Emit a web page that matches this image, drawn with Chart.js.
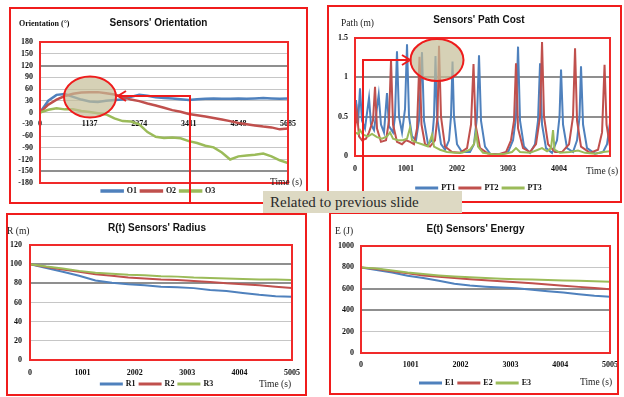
<!DOCTYPE html>
<html>
<head>
<meta charset="utf-8">
<script src="https://cdn.jsdelivr.net/npm/chart.js@4.4.1/dist/chart.umd.min.js"></script>
<style>
  body { margin: 0; width: 624px; height: 397px; background: #fff; position: relative; overflow: hidden; }
  .panel { position: absolute; box-sizing: border-box; border: 2px solid #f01c1c; }
  .panel canvas { position: absolute; left: 0; top: 0; }
  .lbl { position: absolute; font-family: 'Liberation Serif', 'Times New Roman', serif; font-size: 9.5px; line-height: 1; color: #222; white-space: nowrap; }
  .lbl.bold { font-weight: bold; font-size: 8px; color: #111; }
  #marks { position: absolute; left: 0; top: 0; }
  #note { position: absolute; left: 263px; top: 191px; width: 199px; height: 22px; background: #ddd9c3;
          font-family: 'Liberation Serif', 'Times New Roman', serif; font-size: 15px; line-height: 22px; color: #2a2a2a; padding-left: 7px; box-sizing: border-box; }
</style>
</head>
<body>

<div class="panel" style="left:9px;top:7px;width:299px;height:197px"><canvas id="orient-chart" width="295" height="193"></canvas></div>
<div class="panel" style="left:327px;top:5px;width:295px;height:198px"><canvas id="path-chart" width="291" height="194"></canvas></div>
<div class="panel" style="left:6px;top:213px;width:301px;height:183px"><canvas id="radius-chart" width="297" height="179"></canvas></div>
<div class="panel" style="left:329px;top:212px;width:290px;height:183px"><canvas id="energy-chart" width="286" height="179"></canvas></div>

<!-- axis captions -->
<div class="lbl bold" style="left:19px;top:20px">Orientation (°)</div>
<div class="lbl" style="left:270px;top:178px">Time (s)</div>
<div class="lbl" style="left:341px;top:19px">Path (m)</div>
<div class="lbl" style="left:586px;top:167px">Time (s)</div>
<div class="lbl" style="left:7px;top:227px">R (m)</div>
<div class="lbl" style="left:259px;top:380px">Time (s)</div>
<div class="lbl" style="left:335px;top:227px">E (J)</div>
<div class="lbl" style="left:580px;top:378px">Time (s)</div>

<!-- highlight circles and arrows -->
<svg id="marks" width="624" height="397">
  <g fill="none" stroke="#ee1c1c" stroke-width="2">
    <ellipse cx="90" cy="97" rx="26" ry="20.5" fill="rgba(196,189,151,0.7)"/>
    <polyline points="190,204 190,96 120,96"/>
    <polyline points="126,91 118,96 126,101"/>
    <ellipse cx="437" cy="60" rx="26.5" ry="21" fill="rgba(196,189,151,0.7)"/>
    <polyline points="363,200 363,60 408,60"/>
    <polyline points="402,55 410,60 402,65"/>
  </g>
</svg>
<div id="note">Related to previous slide</div>

<script>
// Sensors' Orientation (degrees)
const orientTime = [0, 190, 379, 569, 758, 948, 1137, 1327, 1516, 1706, 1895, 2085, 2274, 2464, 2653, 2843,
                    3032, 3222, 3411, 3601, 3790, 3980, 4169, 4359, 4548, 4738, 4927, 5117, 5306, 5496, 5685];
const orientO1 = [0, 30, 45, 47, 40, 33, 28, 27, 30, 32, 33, 40, 45, 43, 39, 37,
                  36, 34, 32, 34, 35, 36, 35, 35, 36, 35, 36, 37, 36, 35, 36];
const orientO2 = [0, 20, 33, 42, 48, 51, 52, 52, 49, 46, 40, 33, 29, 23, 18, 12,
                  6, 2, -4, -7, -10, -14, -18, -22, -27, -30, -33, -36, -38, -43, -41];
const orientO3 = [0, 7, 11, 8, 8, 4, 1, -2, -5, -15, -22, -23, -30, -50, -62, -65,
                  -64, -66, -73, -78, -85, -89, -102, -120, -112, -110, -108, -105, -112, -122, -129];
const orientTicks = [0, 1137, 2274, 3411, 4548, 5685];

// Sensors' Path Cost (m)
const pt1Time = [0, 20, 59, 98, 137, 196, 275, 314, 373, 465, 510, 569, 628, 667, 746, 785, 824, 864, 923, 982,
                 1021, 1060, 1119, 1197, 1256, 1315, 1354, 1433, 1512, 1551, 1580, 1610, 1688, 1767, 1845, 1884,
                 1914, 1943, 2002, 2100, 2257, 2336, 2395, 2434, 2473, 2552, 2650, 2846, 3003, 3102, 3160, 3200,
                 3239, 3317, 3435, 3533, 3592, 3632, 3671, 3749, 3867, 3965, 4014, 4044, 4083, 4162, 4279, 4358,
                 4407, 4436, 4476, 4554, 4711, 4868, 4947, 5005];
const pt1Cost = [0.55, 0.71, 0.4, 0.86, 0.45, 0.35, 0.74, 0.4, 0.33, 0.78, 0.4, 0.3, 0.8, 0.38, 0.3, 0.5, 1.33, 0.5, 0.3, 0.6,
                 1.42, 0.5, 0.25, 0.2, 0.45, 1.32, 0.45, 0.15, 0.2, 0.5, 1.27, 0.5, 0.15, 0.08, 0.2, 0.5,
                 1.2, 0.5, 0.15, 0.05, 0.05, 0.15, 0.5, 1.28, 0.45, 0.12, 0.03, 0.02, 0.05, 0.2, 0.5, 1.39,
                 0.45, 0.12, 0.04, 0.15, 0.45, 1.18, 0.4, 0.1, 0.04, 0.2, 0.5, 1.1, 0.4, 0.1, 0.05, 0.2,
                 0.5, 1.14, 0.4, 0.1, 0.03, 0.05, 0.15, 0.42];
const pt2Time = [0, 39, 79, 137, 216, 275, 353, 393, 432, 510, 609, 667, 707, 746, 824, 923, 1001, 1080, 1158, 1217,
                 1266, 1305, 1374, 1472, 1570, 1620, 1649, 1688, 1767, 1904, 2061, 2199, 2277, 2326, 2365, 2454,
                 2611, 2807, 2964, 3062, 3121, 3160, 3200, 3298, 3435, 3553, 3632, 3671, 3710, 3789, 3926, 4063,
                 4201, 4279, 4319, 4358, 4436, 4613, 4770, 4849, 4898, 4937, 5005];
const pt2Cost = [0.35, 0.55, 0.25, 0.2, 0.22, 0.3, 0.45, 0.88, 0.35, 0.18, 0.2, 0.45, 1.22, 0.4, 0.18, 0.15, 0.2, 0.18, 0.15, 0.35,
                 1.26, 0.4, 0.15, 0.12, 0.2, 0.5, 1.4, 0.5, 0.12, 0.05, 0.04, 0.1, 0.4, 1.17, 0.4, 0.1,
                 0.03, 0.02, 0.05, 0.2, 0.45, 1.18, 0.35, 0.1, 0.05, 0.15, 0.5, 1.45, 0.5, 0.15, 0.05, 0.05,
                 0.15, 0.5, 1.37, 0.45, 0.12, 0.04, 0.08, 0.3, 1.16, 0.4, 0.12];
const pt3Time = [0, 59, 98, 157, 255, 334, 432, 530, 628, 687, 746, 844, 942, 1021, 1080, 1119, 1217, 1315, 1433, 1512,
                 1551, 1669, 1806, 1963, 2100, 2257, 2336, 2375, 2415, 2513, 2748, 2945, 3082, 3160, 3239, 3435,
                 3592, 3671, 3769, 3848, 3887, 3916, 4024, 4220, 4377, 4515, 4711, 4868, 5005];
const pt3Cost = [0.3, 0.28, 0.33, 0.27, 0.25, 0.28, 0.24, 0.22, 0.25, 0.3, 0.22, 0.2, 0.2, 0.22, 0.36, 0.2, 0.17, 0.15, 0.12, 0.27,
                 0.12, 0.08, 0.05, 0.04, 0.04, 0.08, 0.15, 0.3, 0.12, 0.04, 0.02, 0.03, 0.05, 0.1, 0.05, 0.04,
                 0.08, 0.1, 0.06, 0.1, 0.33, 0.08, 0.04, 0.05, 0.07, 0.04, 0.03, 0.05, 0.06];
const pathTicks = [0, 1001, 2002, 3003, 4004];

// R(t) Sensors' Radius and E(t) Sensors' Energy
const sampleTime = [0, 313, 626, 938, 1251, 1564, 1877, 2189, 2502, 2815, 3128, 3441, 3753, 4066, 4379, 4692, 5005];
const radiusR1 = [100, 96, 92, 88, 83, 80.5, 79, 78, 76.5, 76, 75, 73, 72, 70, 68, 66.5, 66];
const radiusR2 = [100, 97, 94.5, 92, 89.5, 88, 86, 85, 84, 83.5, 82.5, 81.5, 80, 79, 78, 76.5, 75];
const radiusR3 = [100, 97.5, 95.5, 93, 91, 90, 89, 88.5, 87.5, 87, 86, 85.5, 85, 84.5, 84, 84, 83.5];
const energyE1 = [800, 775, 752, 722, 700, 675, 648, 630, 620, 612, 605, 592, 578, 565, 550, 535, 525];
const energyE2 = [800, 785, 765, 745, 725, 712, 700, 690, 680, 670, 662, 652, 640, 628, 618, 608, 595];
const energyE3 = [800, 790, 770, 752, 738, 725, 715, 708, 700, 695, 690, 688, 682, 678, 675, 670, 666];
const timeTicks = [0, 1001, 2002, 3003, 4004, 5005];

const BLUE = '#4f81bd';
const RED = '#c0504d';
const GREEN = '#9bbb59';
const TICK_FONT = { family: "'Liberation Serif', 'Times New Roman', serif", size: 8, weight: 'bold' };

// red frame around the plot area
const plotFrame = {
    id: 'plotFrame',
    afterDatasetsDraw(chart) {
        const a = chart.chartArea;
        const ctx = chart.ctx;
        ctx.save();
        ctx.strokeStyle = '#f02a2a';
        ctx.lineWidth = 2;
        ctx.strokeRect(a.left, a.top, a.right - a.left, a.bottom - a.top);
        ctx.restore();
    }
};

function series(label, times, values, color, order, width) {
    return {
        label: label,
        data: times.map((t, i) => ({ x: t, y: values[i] })),
        borderColor: color,
        backgroundColor: color,
        borderWidth: width,
        pointRadius: 0,
        tension: 0,
        order: order
    };
}

function timeAxis(cfg, ticks, show) {
    return {
        type: 'linear',
        min: 0,
        max: cfg.xMax,
        position: cfg.xPosition || 'bottom',
        afterBuildTicks: (s) => { s.ticks = ticks.map(v => ({ value: v })); },
        ticks: { display: show, padding: cfg.xPad, color: '#111', font: TICK_FONT, maxRotation: 0, autoSkip: false,
                 callback: (v) => String(v) },
        grid: { display: false, drawTicks: false },
        border: { display: false },
        afterFit: (s) => { s.height = show && cfg.xPosition ? 0 : cfg.xHeight; s.paddingLeft = 0; s.paddingRight = 0; }
    };
}

function makeChart(id, cfg) {
    const scales = {
        x: timeAxis(cfg, cfg.xTicks, !cfg.xPosition),
        y: {
            type: 'linear',
            min: cfg.yMin,
            max: cfg.yMax,
            ticks: { stepSize: cfg.yStep, padding: cfg.yPad, autoSkip: false, color: '#111', font: TICK_FONT,
                     callback: (v) => String(v) },
            grid: {
                drawTicks: false,
                color: (c) => cfg.darkLines.includes(c.tick.value) ? '#8f8f8f' : '#c6c6c6',
                lineWidth: (c) => cfg.darkLines.includes(c.tick.value) ? 2 : 1
            },
            border: { display: false },
            afterFit: (s) => { s.width = cfg.yWidth; s.paddingTop = 0; s.paddingBottom = 0; }
        },
        // empty axis on the right, only keeps the gap after the plot
        pad: {
            type: 'linear',
            axis: 'y',
            position: 'right',
            ticks: { display: false },
            grid: { display: false },
            border: { display: false },
            afterFit: (s) => { s.width = cfg.rightWidth; s.paddingTop = 0; s.paddingBottom = 0; }
        }
    };
    if (cfg.xPosition) {
        // labels sit on the zero line, the hidden bottom axis keeps the space
        scales.xZero = timeAxis(cfg, cfg.xTicks, true);
        scales.xZero.z = 1;
    }

    return new Chart(document.getElementById(id), {
        type: 'line',
        data: { datasets: cfg.datasets },
        options: {
            responsive: false,
            animation: false,
            layout: { padding: { left: cfg.padLeft, right: 0, top: 0, bottom: cfg.padBottom } },
            plugins: {
                title: {
                    display: true,
                    text: cfg.title,
                    color: '#111',
                    font: { family: "'Liberation Sans', Arial, sans-serif", size: 10, weight: 'bold' },
                    padding: cfg.titlePad
                },
                legend: {
                    position: 'bottom',
                    maxHeight: 14,
                    labels: {
                        boxWidth: 21,
                        boxHeight: 1,
                        padding: 4,
                        color: '#111',
                        font: TICK_FONT,
                        sort: (a, b) => a.datasetIndex - b.datasetIndex
                    }
                },
                tooltip: { enabled: false }
            },
            scales: scales
        },
        plugins: [plotFrame]
    });
}

makeChart('orient-chart', {
    title: "Sensors' Orientation",
    titlePad: { top: 8, bottom: 13 },
    datasets: [
        series('O1', orientTime, orientO1, BLUE, 2, 2.5),
        series('O2', orientTime, orientO2, RED, 1, 2.5),
        series('O3', orientTime, orientO3, GREEN, 0, 2.5)
    ],
    xMax: 5685, xTicks: orientTicks, xPosition: { y: 0 }, xPad: 7, xHeight: 10,
    yMin: -180, yMax: 180, yStep: 30, yPad: 7, yWidth: 29, darkLines: [120, -150],
    padLeft: 0, rightWidth: 18, padBottom: 5
});

makeChart('path-chart', {
    title: "Sensors' Path Cost",
    titlePad: { top: 7, bottom: 12 },
    datasets: [
        series('PT1', pt1Time, pt1Cost, BLUE, 2, 2),
        series('PT2', pt2Time, pt2Cost, RED, 1, 2),
        series('PT3', pt3Time, pt3Cost, GREEN, 0, 2)
    ],
    xMax: 5005, xTicks: pathTicks, xPad: 8, xHeight: 24,
    yMin: 0, yMax: 1.5, yStep: 0.5, yPad: 7, yWidth: 17, darkLines: [1, 0.5],
    padLeft: 9, rightWidth: 10, padBottom: 7
});

makeChart('radius-chart', {
    title: "R(t) Sensors' Radius",
    titlePad: { top: 7, bottom: 11 },
    datasets: [
        series('R1', sampleTime, radiusR1, BLUE, 2, 2),
        series('R2', sampleTime, radiusR2, RED, 1, 2),
        series('R3', sampleTime, radiusR3, GREEN, 0, 2)
    ],
    xMax: 5005, xTicks: timeTicks, xPad: 8, xHeight: 16,
    yMin: 0, yMax: 120, yStep: 20, yPad: 8, yWidth: 21, darkLines: [100, 80],
    padLeft: 1, rightWidth: 13, padBottom: 4
});

makeChart('energy-chart', {
    title: "E(t) Sensors' Energy",
    titlePad: { top: 9, bottom: 11 },
    datasets: [
        series('E1', sampleTime, energyE1, BLUE, 2, 2),
        series('E2', sampleTime, energyE2, RED, 1, 2),
        series('E3', sampleTime, energyE3, GREEN, 0, 2)
    ],
    xMax: 5005, xTicks: timeTicks, xPad: 7, xHeight: 22,
    yMin: 0, yMax: 1000, yStep: 200, yPad: 7, yWidth: 27, darkLines: [400, 600],
    padLeft: 3, rightWidth: 7, padBottom: 4
});
</script>
</body>
</html>
